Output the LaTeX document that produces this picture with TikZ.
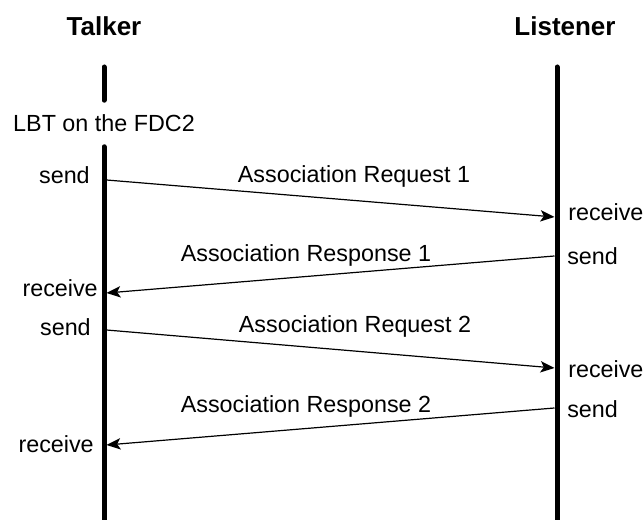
\documentclass[tikz,border=0pt]{standalone}
\usepackage{fontspec}
\setmainfont{Liberation Sans}
\usetikzlibrary{arrows.meta}

\begin{document}
\begin{tikzpicture}[x=0.75pt,y=0.75pt,yscale=-1,xscale=1,
    lifeline/.style={line width=3.75pt, line cap=round},
    msg/.style={line width=0.9pt, -{Stealth[length=10.5pt,width=8.5pt,inset=2.5pt]}},
    actor/.style={font=\fontsize{19.5}{23}\selectfont\bfseries, anchor=base, inner sep=0pt},
    lbl/.style={font=\fontsize{17.5}{21}\selectfont, inner sep=0pt}]
    \useasboundingbox (0,0) rectangle (644,520);
    \node [actor] (talker) at (104,36) {Talker};
    \node [actor] (listener) at (565,36) {Listener};
    \node [lbl, minimum height=34.5pt] (lbt) at (104,123.5) {LBT on the FDC2};
    \coordinate (ttop) at (104,67);
    \coordinate (tbot) at (104,526);
    \coordinate (ltop) at (557,67);
    \coordinate (lbot) at (557,526);
    \draw [lifeline] (ttop) -- (lbt.north);
    \draw [lifeline] (lbt.south) -- (tbot);
    \draw [lifeline] (ltop) -- (lbot);
    \coordinate (s1) at (106.5,180);
    \coordinate (r1) at (554.5,217);
    \coordinate (s2) at (554.5,256);
    \coordinate (r2) at (106.5,293);
    \coordinate (s3) at (106.5,330);
    \coordinate (r3) at (554.5,368);
    \coordinate (s4) at (554.5,408);
    \coordinate (r4) at (106.5,445);
    \draw [msg] (s1) -- (r1);
    \draw [msg] (s2) -- (r2);
    \draw [msg] (s3) -- (r3);
    \draw [msg] (s4) -- (r4);
    \node [lbl, anchor=base] (req1) at (354,183) {Association Request 1};
    \node [lbl, anchor=base] (resp1) at (306,262) {Association Response 1};
    \node [lbl, anchor=base] (req2) at (355,333) {Association Request 2};
    \node [lbl, anchor=base] (resp2) at (306,413) {Association Response 2};
    \node [lbl, anchor=base east] (send1) at (90,184) {send};
    \node [lbl, anchor=base west] (recv1) at (568,221) {receive};
    \node [lbl, anchor=base west] (send2) at (567,265) {send};
    \node [lbl, anchor=base east] (recv2) at (98,297) {receive};
    \node [lbl, anchor=base east] (send3) at (91,336) {send};
    \node [lbl, anchor=base west] (recv3) at (568,378) {receive};
    \node [lbl, anchor=base west] (send4) at (567,418) {send};
    \node [lbl, anchor=base east] (recv4) at (94,453) {receive};
\end{tikzpicture}
\end{document}
